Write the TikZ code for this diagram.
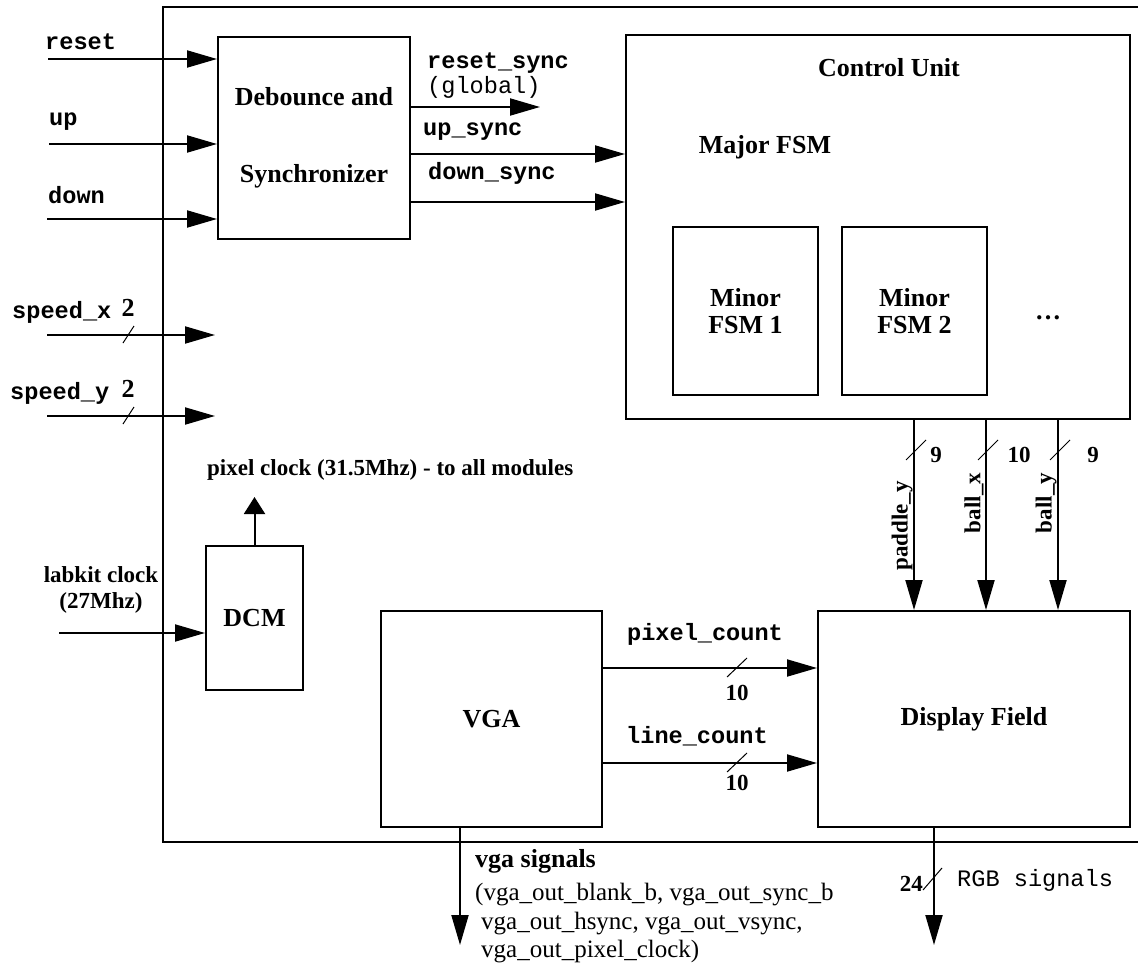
\documentclass[tikz,border=0pt]{standalone}
\usepackage{fontspec}
\setmainfont{Liberation Serif}
\setmonofont{Liberation Mono}
\usepackage{tikz}
\usetikzlibrary{arrows.meta}
\newcommand{\bigbf}{\bfseries\fontsize{26}{27}\selectfont}
\newcommand{\smallbf}{\bfseries\fontsize{23}{26}\selectfont}

\begin{document}
\begin{tikzpicture}[
  x=1pt, y=-1pt,
  block/.style={draw, line width=2pt, inner sep=0pt, align=center, font=\bigbf},
  wire/.style={line width=2pt, -{Triangle[length=30pt,width=17pt]}},
  bus/.style={line width=1pt},
  txt/.style={inner sep=0pt, font=\smallbf},
  sname/.style={inner sep=0pt, font=\ttfamily\bfseries\fontsize{23.6}{26}\selectfont},
  note/.style={inner sep=0pt, font=\ttfamily\fontsize{23.6}{26}\selectfont},
]
\useasboundingbox (0,0) rectangle (1138,966);
\draw[line width=2pt] (1140,7) -- (163,7) -- (163,842) -- (1140,842);

\node[block, minimum width=192pt, minimum height=201pt,
      font=\bfseries\fontsize{26}{77}\selectfont] (deb) at (314,138) {Debounce and\\Synchronizer};
\node[block, minimum width=504pt, minimum height=384pt] (cu) at (878,227) {};
\node[txt, font=\bigbf] (cutitle) at (889,68) {Control Unit};
\node[txt, font=\bigbf] (major) at (765,147) {Major FSM};
\node[block, minimum width=145pt, minimum height=168pt] (fsm1) at (745.5,311) {Minor\\FSM 1};
\node[block, minimum width=145pt, minimum height=168pt] (fsm2) at (914.5,311) {Minor\\FSM 2};
\node[txt, font=\bigbf] (dots) at (1048,318) {\dots};
\node[block, minimum width=97pt, minimum height=144pt] (dcm) at (254.5,618) {DCM};
\node[block, minimum width=221pt, minimum height=216pt] (vga) at (491.5,719) {VGA};
\node[block, minimum width=312pt, minimum height=216pt] (df) at (974,719) {Display Field};

\node[sname, anchor=west] (lreset) at (45,42) {reset};
\node[sname, anchor=west] (lup) at (49,122) {up};
\node[sname, anchor=west] (ldown) at (48,195) {down};
\coordinate (inreset) at (48,59);
\coordinate (inup) at (49,144);
\coordinate (indown) at (47,219);
\draw[wire] (inreset) -- (inreset -| deb.west);
\draw[wire] (inup) -- (inup -| deb.west);
\draw[wire] (indown) -- (indown -| deb.west);

\node[sname, anchor=west] (lsx) at (12,312) {speed\_x};
\node[txt, font=\bigbf] (wsx) at (128,308) {2};
\coordinate (sx) at (47,335);
\coordinate (sxend) at (215,335);
\draw[wire] (sx) -- (sxend);
\draw[bus] (123,343) -- (134,326);
\node[sname, anchor=west] (lsy) at (10,393) {speed\_y};
\node[txt, font=\bigbf] (wsy) at (128,389) {2};
\coordinate (sy) at (47,416);
\coordinate (syend) at (215,416);
\draw[wire] (sy) -- (syend);
\draw[bus] (123,424) -- (134,407);

\node[txt, align=center] (llk) at (101,590) {labkit clock\\(27Mhz)};
\coordinate (lk) at (59,633);
\draw[wire] (lk) -- (lk -| dcm.west);
\node[txt, anchor=west] (lpclk) at (207,470) {pixel clock (31.5Mhz) - to all modules};
\coordinate (pclk) at (254.5,497);
\draw[line width=2pt, -{Triangle[length=17pt,width=21pt]}] (dcm.north) -- (pclk);

\node[sname, anchor=west] (lrs) at (427,63) {reset\_sync};
\node[note, anchor=west] (lglobal) at (427,87) {(global)};
\node[sname, anchor=west] (lus) at (423,132) {up\_sync};
\node[sname, anchor=west] (lds) at (428,173) {down\_sync};
\coordinate (rs) at (540,107);
\coordinate (us) at (500,154);
\coordinate (ds) at (500,202);
\draw[wire] (rs -| deb.east) -- (rs);
\draw[wire] (us -| deb.east) -- (us -| cu.west);
\draw[wire] (ds -| deb.east) -- (ds -| cu.west);

\foreach \x/\n/\nx/\lab/\ly in {914/9/936/paddle\_y/526, 986/10/1019/ball\_x/503, 1058/9/1093/ball\_y/503} {
  \draw[wire] (cu.south -| \x,0) -- (df.north -| \x,0);
  \draw[bus] (\x-8,460) -- (\x+12,440);
  \node[txt] (w\x) at (\nx,455) {\n};
  \node[txt, rotate=90] (n\x) at (\x-12,\ly) {\lab};
}

\node[sname] (lpc) at (705,634) {pixel\_count};
\node[txt] (wpc) at (737,693) {10};
\coordinate (pc) at (700,668);
\draw[wire] (pc -| vga.east) -- (pc -| df.west);
\draw[bus] (727,677) -- (747,658);
\node[sname] (llc) at (697,736) {line\_count};
\node[txt] (wlc) at (737,783) {10};
\coordinate (lc) at (700,763);
\draw[wire] (lc -| vga.east) -- (lc -| df.west);
\draw[bus] (727,772) -- (747,753);

\coordinate (vo) at (460,945);
\draw[wire] (vo |- vga.south) -- (vo);
\node[txt, font=\bigbf, anchor=west] (lvga) at (475,861) {vga signals};
\node[inner sep=0pt, anchor=base west, font=\fontsize{25}{28}\selectfont] (vl1) at (475,900) {(vga\_out\_blank\_b, vga\_out\_sync\_b};
\node[inner sep=0pt, anchor=base west, font=\fontsize{25}{28}\selectfont] (vl2) at (481,929) {vga\_out\_hsync, vga\_out\_vsync,};
\node[inner sep=0pt, anchor=base west, font=\fontsize{25}{28}\selectfont] (vl3) at (481,957) {vga\_out\_pixel\_clock)};

\coordinate (ro) at (934,945);
\draw[wire] (ro |- df.south) -- (ro);
\draw[bus] (923,890) -- (942,868);
\node[txt, anchor=east] (wrgb) at (923,884) {24};
\node[note, anchor=west] (lrgb) at (957,880) {RGB signals};
\end{tikzpicture}
\end{document}
